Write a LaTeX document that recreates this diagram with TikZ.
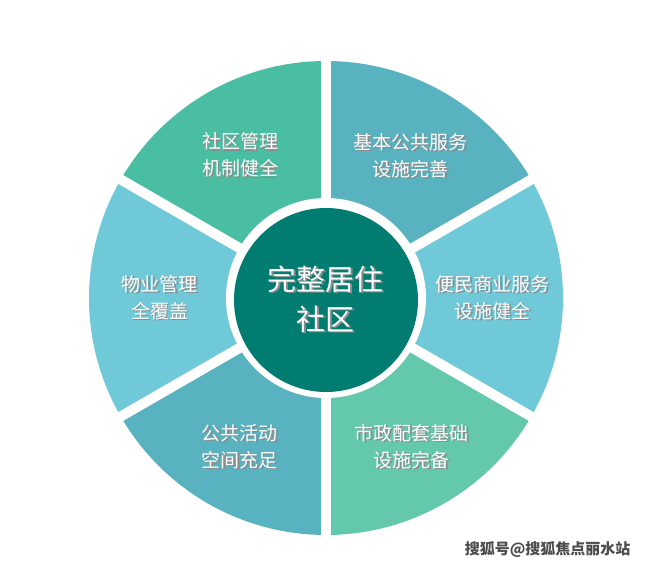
\documentclass[tikz,border=0pt]{standalone}
\usepackage{fontspec}
\newfontfamily\cjk{Noto Sans CJK SC}
\usepackage{tikz}
\usetikzlibrary{positioning}

\definecolor{mgmtgreen}{RGB}{74,190,162}
\definecolor{basicteal}{RGB}{88,178,192}
\definecolor{commcyan}{RGB}{112,201,216}
\definecolor{munigreen}{RGB}{100,200,172}
\definecolor{actteal}{RGB}{88,178,192}
\definecolor{propcyan}{RGB}{112,201,216}
\definecolor{coreteal}{RGB}{0,124,112}

% soft drop shadow behind each line of text
\newcommand{\shline}[1]{\rlap{\kern1.2pt\raisebox{-1.2pt}{\color{black!45}#1}}#1}

\tikzset{
    label/.style = {text=white, align=center, font=\cjk\fontsize{19}{27}\selectfont, inner sep=0pt},
    corelabel/.style = {text=white, align=center, font=\cjk\fontsize{29}{40}\selectfont, inner sep=0pt},
    gap/.style = {white, line width=10pt}
}

\begin{document}
\begin{tikzpicture}[x=1pt, y=1pt]

\useasboundingbox (-326,-268) rectangle (320,298);
\fill[white] (-326,-268) rectangle (320,298);

% Sectors
\fill[mgmtgreen] (0,0) -- (90:237) arc[start angle=90, end angle=150, radius=237] -- cycle;
\fill[basicteal] (0,0) -- (30:237) arc[start angle=30, end angle=90, radius=237] -- cycle;
\fill[commcyan] (0,0) -- (-30:237) arc[start angle=-30, end angle=30, radius=237] -- cycle;
\fill[munigreen] (0,0) -- (-90:237) arc[start angle=-90, end angle=-30, radius=237] -- cycle;
\fill[actteal] (0,0) -- (-150:237) arc[start angle=-150, end angle=-90, radius=237] -- cycle;
\fill[propcyan] (0,0) -- (150:237) arc[start angle=150, end angle=210, radius=237] -- cycle;

% Gaps between sectors
\draw[gap] (0,0) -- (90:240);
\draw[gap] (0,0) -- (30:240);
\draw[gap] (0,0) -- (-30:240);
\draw[gap] (0,0) -- (-90:240);
\draw[gap] (0,0) -- (-150:240);
\draw[gap] (0,0) -- (150:240);

% Centre
\fill[white] (0,0) circle[radius=100];
\node[circle, fill=coreteal, minimum size=184pt, inner sep=0pt] (core) at (0,-2) {};
\node[corelabel] (core_text) at (core.center) {\shline{完整居住}\\\shline{社区}};

% Nodes
\node[label] (mgmt) at (121:166) {\shline{社区管理}\\\shline{机制健全}};
\node[label] (basic) at (59:165) {\shline{基本公共服务}\\\shline{设施完善}};
\node[label] (commerce) at (0:167) {\shline{便民商业服务}\\\shline{设施健全}};
\node[label] (municipal) at (-60:172) {\shline{市政配套基础}\\\shline{设施完备}};
\node[label] (activity) at (-120:172) {\shline{公共活动}\\\shline{空间充足}};
\node[label] (property) at (180:166) {\shline{物业管理}\\\shline{全覆盖}};

% Watermark
\node[font=\cjk\bfseries\fontsize{15}{15}\selectfont, text=black!70, anchor=east] (mark) at (308,-251) {搜狐号@搜狐焦点丽水站};

\end{tikzpicture}
\end{document}
